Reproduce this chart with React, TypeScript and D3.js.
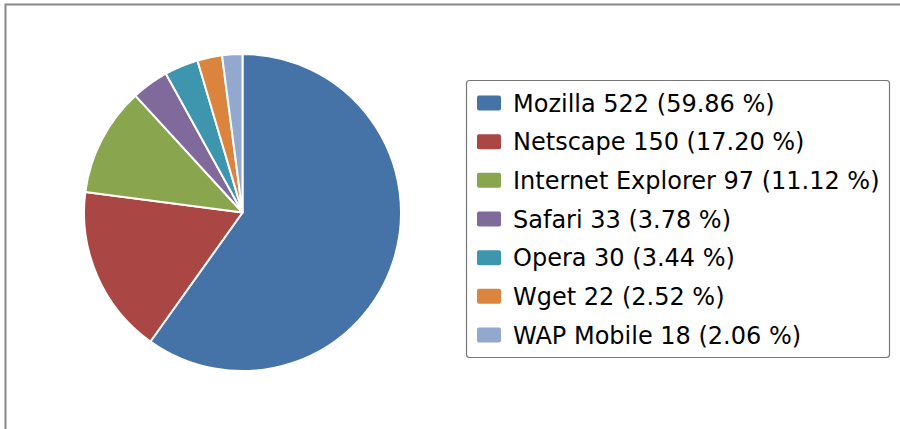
import React from "react";
import * as d3 from "d3";

const categories = ["Mozilla", "Netscape", "Internet Explorer", "Safari", "Opera", "Wget", "WAP Mobile"];
const values = [522, 150, 97, 33, 30, 22, 18];
const colors = ["#4572A7", "#AA4643", "#89A54E", "#80699B", "#3D96AE", "#DB843D", "#92A8CD"];

export default function App() {
  const W = 900, H = 429;
  const cx = 242.5, cy = 212.5, r = 158.5;
  const total = d3.sum(values);
  const pie = d3.pie<number>().sort(null).value((d) => d)(values);
  const arc = d3.arc<d3.PieArcDatum<number>>().innerRadius(0).outerRadius(r);
  const lx = 466.5, ly = 80.5, lw = 423, lh = 277;
  const rowY = d3.scaleLinear().domain([0, 6]).range([103, 335]);
  return (
    <svg width={W} height={H} style={{ position: "absolute", left: 0, top: 0 }} fontFamily="DejaVu Sans">
      <rect x={0} y={0} width={W} height={H} fill="#fff" />
      <path d={`M5.5,${H} L5.5,4.5 L${W},4.5`} fill="none" stroke="#888" strokeWidth={2} />
      <g transform={`translate(${cx},${cy})`}>
        {pie.map((p, i) => (
          <path key={i} d={arc(p) || ""} fill={colors[i]} stroke="#fff" strokeWidth={2} strokeLinejoin="round" />
        ))}
      </g>
      <rect x={lx} y={ly} width={lw} height={lh} rx={3} fill="#fff" stroke="#777" strokeWidth={1.2} />
      {categories.map((c, i) => (
        <g key={c} transform={`translate(0,${rowY(i)})`}>
          <rect x={477} y={-7.5} width={24} height={15} rx={2} fill={colors[i]} />
          <text x={513} y={0} dy="0.36em" fontSize={24} fill="#000">
            {`${c} ${values[i]} (${((values[i] / total) * 100).toFixed(2)} %)`}
          </text>
        </g>
      ))}
    </svg>
  );
}
